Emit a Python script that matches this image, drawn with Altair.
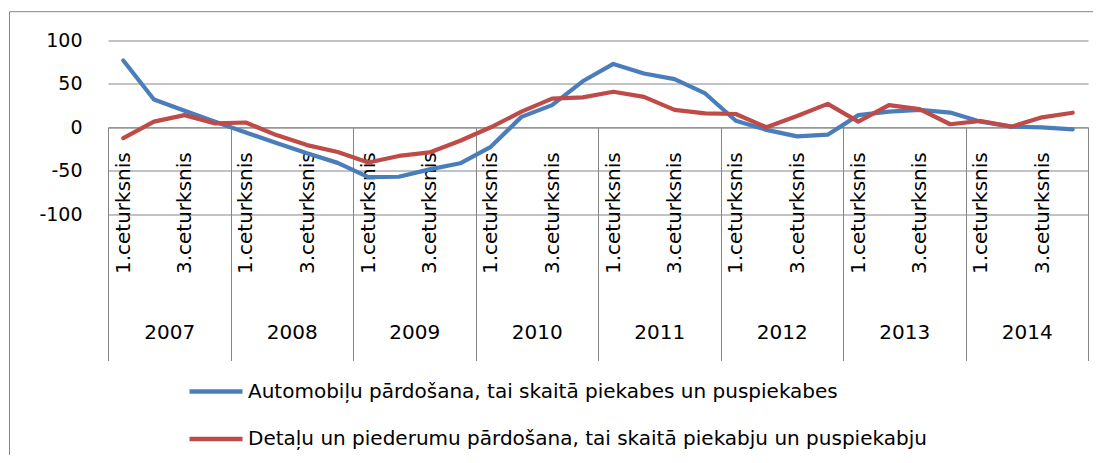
import json
import altair as alt
import pandas as pd

# ---------------- data ----------------
years = ["2007", "2008", "2009", "2010", "2011", "2012", "2013", "2014"]
quarter_names = ["1.ceturksnis", "2.ceturksnis", "3.ceturksnis", "4.ceturksnis"]
shown_quarters = [0, 2]  # every second category label is shown (1. and 3. quarter)
series_names = [
    "Automobiļu pārdošana, tai skaitā piekabes un puspiekabes",
    "Detaļu un piederumu pārdošana, tai skaitā piekabju un puspiekabju",
]
auto_values = [77, 32, 19, 6.5, -6, -18, -30, -41, -57.5, -57, -48.5, -41.5,
               -22.5, 12, 25.5, 53, 73, 62, 55.5, 39, 7.5, -3, -10.5, -8.5,
               14, 18, 20, 17, 6.5, 0.7, 0, -2.3]
parts_values = [-12.5, 6.5, 14, 4.5, 5.5, -9, -20.5, -28.5, -40.5, -33, -29, -15.5,
                0, 18, 33, 34.5, 41, 35, 20, 16, 15.3, 0, 13, 27,
                6.5, 25.5, 21, 3.5, 7.3, 0.7, 11.5, 16.8]
series_colors = ["#4A7EBB", "#BE4B48"]
y_ticks = [-100, -50, 0, 50, 100]

rows = []
for name, vals in zip(series_names, [auto_values, parts_values]):
    for i, v in enumerate(vals):
        rows.append({"series": name, "pos": i + 0.5, "value": v,
                     "year": years[i // 4], "quarter": quarter_names[i % 4]})
df = pd.DataFrame(rows)

# ---------------- layout ----------------
n = len(auto_values)
W, H = 980, 320
Y_TOP, Y_BOTTOM = 100, -268.7
zero_px = H * (Y_TOP - 0) / (Y_TOP - Y_BOTTOM)
below_zero = H - zero_px          # distance from the 0 line down to the plot bottom
FONT = "DejaVu Sans"
GRID = "#868686"

x_scale = alt.Scale(domain=[0, n], nice=False, zero=False)
y_scale = alt.Scale(domain=[Y_BOTTOM, Y_TOP], nice=False, zero=False)

y_axis = alt.Axis(values=y_ticks, grid=True, gridColor=GRID, gridWidth=1,
                  domain=False, ticks=False, labelFont=FONT, labelFontSize=19,
                  labelColor="black", labelPadding=26, labelExpr="datum.value + ''",
                  title=None)

quarter_axis = alt.Axis(
    orient="bottom", offset=-below_zero,
    values=[i + 0.5 for i in range(n) if i % 4 in shown_quarters],
    labelExpr=f"{json.dumps(quarter_names, ensure_ascii=False)}[floor(datum.value) % 4]",
    labelAngle=270, labelAlign="right", labelBaseline="middle", labelPadding=24.5,
    labelFont=FONT, labelFontSize=20, labelColor="black", labelOverlap=False,
    labelFlush=False, ticks=False, domain=False, grid=False, title=None)

year_axis = alt.Axis(
    orient="bottom", offset=-below_zero,
    values=[4 * k + 2 for k in range(len(years))],
    labelExpr=f"{json.dumps(years)}[floor(datum.value / 4)]",
    labelAngle=0, labelAlign="center", labelBaseline="middle", labelPadding=205,
    labelFont=FONT, labelFontSize=20, labelColor="black", labelOverlap=False,
    labelFlush=False, ticks=False, domain=False, grid=False, title=None)

sep_axis = alt.Axis(
    orient="bottom", offset=-below_zero,
    values=[4 * k for k in range(len(years) + 1)],
    labels=False, ticks=True, tickSize=below_zero, tickColor=GRID, tickWidth=1,
    domain=True, domainColor=GRID, domainWidth=1, grid=False, title=None)

legend = alt.Legend(orient="none", legendX=79, legendY=322, direction="vertical",
                    symbolType="stroke", symbolStrokeWidth=4.5, symbolSize=2809,
                    labelFont=FONT, labelFontSize=20, labelColor="black",
                    labelOffset=3, labelLimit=0, rowPadding=8.4, padding=0,
                    title=None)

base = alt.Chart(df)

sep_layer = base.mark_point(opacity=0).encode(
    x=alt.X("pos:Q", scale=x_scale, axis=sep_axis),
    y=alt.Y("value:Q", scale=y_scale, axis=y_axis))

year_layer = base.mark_point(opacity=0).encode(
    x=alt.X("pos:Q", scale=x_scale, axis=year_axis),
    y=alt.Y("value:Q", scale=y_scale, axis=y_axis))

lines = base.mark_line(strokeWidth=4.2, strokeJoin="round", strokeCap="round").encode(
    x=alt.X("pos:Q", scale=x_scale, axis=quarter_axis),
    y=alt.Y("value:Q", scale=y_scale, axis=y_axis),
    color=alt.Color("series:N", scale=alt.Scale(domain=series_names, range=series_colors),
                    legend=legend),
    order="pos:Q")

frame_df = pd.DataFrame({"k": [0]})
frame_top = alt.Chart(frame_df).mark_rule(color=GRID, strokeWidth=1).encode(
    x=alt.value(-98.5), x2=alt.value(W + 30), y=alt.value(-28.8))
frame_left = alt.Chart(frame_df).mark_rule(color=GRID, strokeWidth=1).encode(
    x=alt.value(-98.5), y=alt.value(-28.8), y2=alt.value(H + 200))

chart = alt.layer(sep_layer, year_layer, lines, frame_top, frame_left).resolve_axis(
    x="independent", y="shared"
).properties(
    width=W, height=H,
    padding={"left": 100, "top": 32.5, "right": 5, "bottom": 94.5},
    autosize=alt.AutoSizeParams(type="none"),
    background="white",
).configure_view(stroke=None)

chart.save("out.html", embed_options={"renderer": "svg", "actions": False})
